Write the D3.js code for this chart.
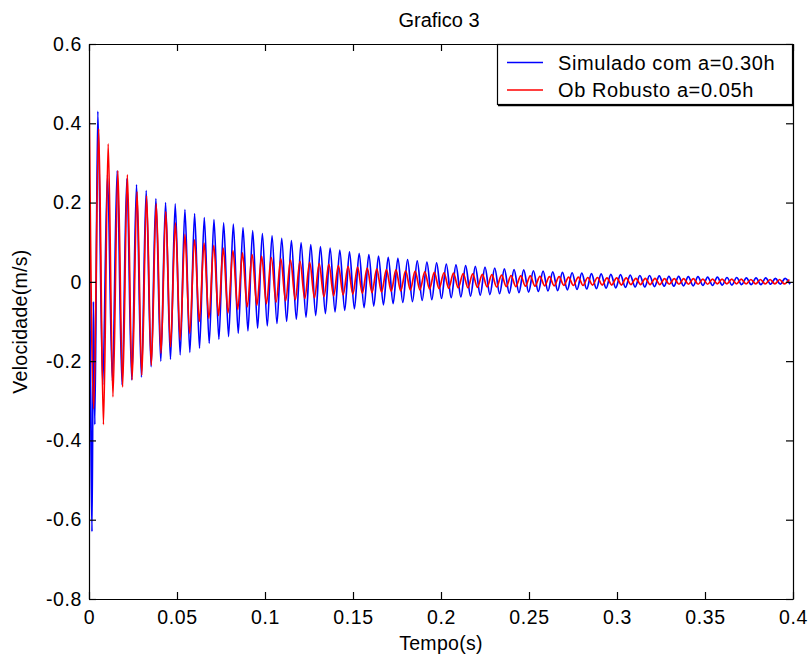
<!DOCTYPE html>
<html lang="en">
<head>
<meta charset="UTF-8">
<title>Grafico 3</title>
<style>
  body { margin: 0; background: #fff; }
  text { font-family: "Liberation Sans", Arial, sans-serif; fill: #000; }
</style>
</head>
<body>
<script src="https://cdn.jsdelivr.net/npm/d3@7"></script>
<script>
// ---- data (times in ms, velocity in m/s) ----
var xTicks = [0, 0.05, 0.1, 0.15, 0.2, 0.25, 0.3, 0.35, 0.4]
var yTicks = [-0.8, -0.6, -0.4, -0.2, 0, 0.2, 0.4, 0.6]
var seriesNames = ['Simulado com a=0.30h', 'Ob Robusto a=0.05h']

// blue: start transient, then peaks / troughs of each cycle
var blueStartT = [0, 1.0, 1.7, 2.5, 3.3]
var blueStartV = [0.24, -0.33, -0.63, -0.05, -0.36]
var bluePeakT = [5, 10.5, 16, 21.5, 27, 32.5, 38, 43.5, 49, 54.5, 60, 65.5, 71, 76.5, 82, 87.5, 93, 98.5,
  104, 109.5, 115, 120.5, 126, 131.5, 137, 142.5, 148, 153.5, 159, 164.5, 170, 175.5, 181, 186.5, 192, 197.5,
  203, 208.5, 214, 219.5, 225, 230.5, 236, 241.5, 247, 252.5, 258, 263.5, 269, 274.5, 280, 285.5, 291, 296.5,
  302, 307.5, 313, 318.5, 324, 329.5, 335, 340.5, 346, 351.5, 357, 362.5, 368, 373.5, 379, 384.5, 390, 395.5]
var bluePeakV = [0.43, 0.27, 0.28, 0.26, 0.245, 0.23, 0.21, 0.20, 0.197, 0.182, 0.172, 0.162, 0.157, 0.149, 0.146, 0.137, 0.129, 0.122,
  0.116, 0.110, 0.104, 0.099, 0.094, 0.089, 0.085, 0.080, 0.076, 0.072, 0.069, 0.065, 0.062, 0.059, 0.056, 0.053, 0.050, 0.048,
  0.045, 0.043, 0.041, 0.039, 0.037, 0.035, 0.033, 0.031, 0.030, 0.028, 0.027, 0.025, 0.024, 0.023, 0.022, 0.021, 0.020, 0.019,
  0.018, 0.017, 0.016, 0.016, 0.015, 0.014, 0.014, 0.013, 0.013, 0.012, 0.012, 0.011, 0.011, 0.010, 0.010, 0.010, 0.009, 0.009]
var blueTroughT = [7.8, 13.3, 18.8, 24.3, 29.8, 35.3, 40.8, 46.3, 51.8, 57.3, 62.8, 68.3, 73.8, 79.3, 84.8, 90.3, 95.8, 101.3,
  106.8, 112.3, 117.8, 123.3, 128.8, 134.3, 139.8, 145.3, 150.8, 156.3, 161.8, 167.3, 172.8, 178.3, 183.8, 189.3, 194.8, 200.3,
  205.8, 211.3, 216.8, 222.3, 227.8, 233.3, 238.8, 244.3, 249.8, 255.3, 260.8, 266.3, 271.8, 277.3, 282.8, 288.3, 293.8, 299.3,
  304.8, 310.3, 315.8, 321.3, 326.8, 332.3, 337.8, 343.3, 348.8, 354.3, 359.8, 365.3, 370.8, 376.3, 381.8, 387.3, 392.8, 398.3]
var blueTroughV = [-0.26, -0.25, -0.26, -0.247, -0.24, -0.214, -0.20, -0.195, -0.184, -0.178, -0.167, -0.155, -0.145, -0.138, -0.130, -0.124, -0.117, -0.111,
  -0.105, -0.100, -0.094, -0.089, -0.085, -0.080, -0.076, -0.072, -0.068, -0.065, -0.061, -0.058, -0.055, -0.052, -0.050, -0.047, -0.045, -0.042,
  -0.040, -0.038, -0.036, -0.034, -0.032, -0.030, -0.029, -0.027, -0.026, -0.024, -0.023, -0.022, -0.020, -0.019, -0.018, -0.017, -0.016, -0.015,
  -0.014, -0.013, -0.013, -0.012, -0.011, -0.011, -0.010, -0.010, -0.009, -0.009, -0.008, -0.008, -0.007, -0.007, -0.007, -0.006, -0.006, -0.006]

// red: peaks / troughs of each cycle
var redPeakT = [0, 5.5, 10.9, 16.4, 21.8, 27.3, 32.7, 38.2, 43.6, 49.1, 54.5, 60.0, 65.4, 70.9, 76.3, 81.8, 87.2, 92.7,
  98.1, 103.6, 109.0, 114.5, 119.9, 125.4, 130.8, 136.3, 141.7, 147.2, 152.6, 158.1, 163.5, 169.0, 174.4, 179.9, 185.3, 190.8,
  196.2, 201.7, 207.1, 212.6, 218.0, 223.5, 228.9, 234.4, 239.8, 245.3, 250.7, 256.2, 261.6, 267.1, 272.5, 278.0, 283.4, 288.9,
  294.3, 299.8, 305.2, 310.7, 316.1, 321.6, 327.0, 332.5, 337.9, 343.4, 348.8, 354.3, 359.7, 365.2, 370.6, 376.1, 381.5, 387.0, 392.4, 397.9]
var redPeakV = [0.487, 0.386, 0.348, 0.28, 0.27, 0.227, 0.217, 0.197, 0.177, 0.149, 0.12, 0.106, 0.098, 0.092, 0.085, 0.079, 0.073, 0.069,
  0.065, 0.061, 0.058, 0.055, 0.052, 0.049, 0.046, 0.044, 0.041, 0.039, 0.037, 0.035, 0.033, 0.031, 0.030, 0.028, 0.027, 0.025,
  0.024, 0.023, 0.022, 0.021, 0.020, 0.019, 0.018, 0.017, 0.016, 0.015, 0.015, 0.014, 0.013, 0.013, 0.012, 0.012, 0.011, 0.011,
  0.010, 0.010, 0.010, 0.009, 0.009, 0.009, 0.008, 0.008, 0.008, 0.008, 0.007, 0.007, 0.007, 0.007, 0.007, 0.006, 0.006, 0.006, 0.006, 0.006]
var redTroughT = [2.7, 8.2, 13.6, 19.1, 24.5, 30.0, 35.4, 40.9, 46.3, 51.8, 57.2, 62.7, 68.1, 73.6, 79.0, 84.5, 89.9, 95.4,
  100.8, 106.3, 111.7, 117.2, 122.6, 128.1, 133.5, 139.0, 144.4, 149.9, 155.3, 160.8, 166.2, 171.7, 177.1, 182.6, 188.0, 193.5,
  198.9, 204.4, 209.8, 215.3, 220.7, 226.2, 231.6, 237.1, 242.5, 248.0, 253.4, 258.9, 264.3, 269.8, 275.2, 280.7, 286.1, 291.6,
  297.0, 302.5, 307.9, 313.4, 318.8, 324.3, 329.7, 335.2, 340.6, 346.1, 351.5, 357.0, 362.4, 367.9, 373.3, 378.8, 384.2, 389.7, 395.1]
var redTroughV = [-0.32, -0.36, -0.29, -0.265, -0.247, -0.235, -0.21, -0.18, -0.164, -0.146, -0.13, -0.10, -0.092, -0.085, -0.078, -0.070, -0.063, -0.059,
  -0.055, -0.051, -0.048, -0.045, -0.042, -0.040, -0.037, -0.035, -0.033, -0.031, -0.029, -0.027, -0.026, -0.024, -0.023, -0.021, -0.020, -0.018,
  -0.017, -0.016, -0.015, -0.015, -0.014, -0.013, -0.013, -0.012, -0.012, -0.011, -0.011, -0.010, -0.010, -0.009, -0.009, -0.009, -0.008, -0.008,
  -0.008, -0.008, -0.007, -0.007, -0.007, -0.007, -0.006, -0.006, -0.006, -0.006, -0.006, -0.005, -0.005, -0.005, -0.005, -0.005, -0.005, -0.005, -0.005]

// ---- helpers ----
function pts(ts, vs) {
  return ts.map(function (t, i) { return { t: t / 1000, v: vs[i] } })
}
function series() {
  var all = []
  for (var i = 0; i < arguments.length; i += 2) all = all.concat(pts(arguments[i], arguments[i + 1]))
  return all.sort(function (a, b) { return a.t - b.t })
}
var blue = series(blueStartT, blueStartV, bluePeakT, bluePeakV, blueTroughT, blueTroughV)
var red = series(redPeakT, redPeakV, redTroughT, redTroughV)

// ---- layout ----
var width = 810, height = 661
var plot = { left: 89, right: 793, top: 44, bottom: 599 }

var svg = d3.select('body').append('svg')
  .attr('width', width).attr('height', height)

var x = d3.scaleLinear().domain([0, 0.4]).range([plot.left, plot.right])
var y = d3.scaleLinear().domain([-0.8, 0.6]).range([plot.bottom, plot.top])

var fmt = function (d) { return String(+d.toFixed(2)) }

svg.append('clipPath').attr('id', 'clip')
  .append('rect')
  .attr('x', plot.left).attr('y', plot.top)
  .attr('width', plot.right - plot.left).attr('height', plot.bottom - plot.top)

// monotone curve keeps the tops flat, which is how the sampled waves look
var line = d3.line().curve(d3.curveMonotoneX)
  .x(function (d) { return x(d.t) }).y(function (d) { return y(d.v) })

var lines = svg.append('g').attr('clip-path', 'url(#clip)')
lines.append('path').datum(blue)
  .attr('d', line).attr('fill', 'none').attr('stroke', '#0000ff').attr('stroke-width', 1.7)
lines.append('path').datum(red)
  .attr('d', line).attr('fill', 'none').attr('stroke', '#ff0000').attr('stroke-width', 1.7)

// axes (ticks point inward, like the matlab box)
function styleAxis(g) {
  g.selectAll('path, line').attr('stroke', '#000').attr('stroke-width', 1.2)
  g.selectAll('text').attr('font-size', '19.5px').attr('font-family', '"Liberation Sans", Arial, sans-serif')
    .attr('fill', '#000').style('letter-spacing', '0.6px')
}
svg.append('g').attr('transform', 'translate(0,' + plot.bottom + ')')
  .call(d3.axisBottom(x).tickValues(xTicks).tickFormat(fmt).tickSizeInner(-7).tickSizeOuter(0).tickPadding(11))
  .call(styleAxis)
svg.append('g').attr('transform', 'translate(' + plot.left + ',0)')
  .call(d3.axisLeft(y).tickValues(yTicks).tickFormat(fmt).tickSizeInner(-7).tickSizeOuter(0).tickPadding(7))
  .call(styleAxis)
svg.append('g').attr('transform', 'translate(0,' + plot.top + ')')
  .call(d3.axisTop(x).tickValues(xTicks).tickFormat('').tickSizeInner(-7).tickSizeOuter(0))
  .call(styleAxis)
svg.append('g').attr('transform', 'translate(' + plot.right + ',0)')
  .call(d3.axisRight(y).tickValues(yTicks).tickFormat('').tickSizeInner(-7).tickSizeOuter(0))
  .call(styleAxis)

// titles
svg.append('text').attr('x', 439).attr('y', 27).attr('text-anchor', 'middle')
  .attr('font-size', '20px').text('Grafico 3')
svg.append('text').attr('x', (plot.left + plot.right) / 2).attr('y', 650).attr('text-anchor', 'middle')
  .attr('font-size', '19.5px').style('letter-spacing', '0.3px').text('Tempo(s)')
svg.append('text').attr('transform', 'translate(27,' + (plot.top + plot.bottom) / 2 + ') rotate(-90)')
  .attr('text-anchor', 'middle').attr('font-size', '19.5px').style('letter-spacing', '0.3px').text('Velocidade(m/s)')

// legend
var lg = svg.append('g')
lg.append('rect').attr('x', 497.5).attr('y', 44.5).attr('width', 295).attr('height', 60)
  .attr('fill', '#fff').attr('stroke', '#000').attr('stroke-width', 1.2)
lg.append('line').attr('x1', 498).attr('x2', 794).attr('y1', 105.5).attr('y2', 105.5)
  .attr('stroke', '#000').attr('stroke-width', 1.5)
var colors = ['#0000ff', '#ff0000']
seriesNames.forEach(function (name, i) {
  var yy = 62.5 + i * 27.5
  lg.append('line').attr('x1', 507).attr('x2', 543).attr('y1', yy).attr('y2', yy)
    .attr('stroke', colors[i]).attr('stroke-width', 1.3)
  lg.append('text').attr('x', 558).attr('y', yy + 7).attr('font-size', '20px')
    .style('letter-spacing', '0.6px').text(name)
})
</script>
</body>
</html>
